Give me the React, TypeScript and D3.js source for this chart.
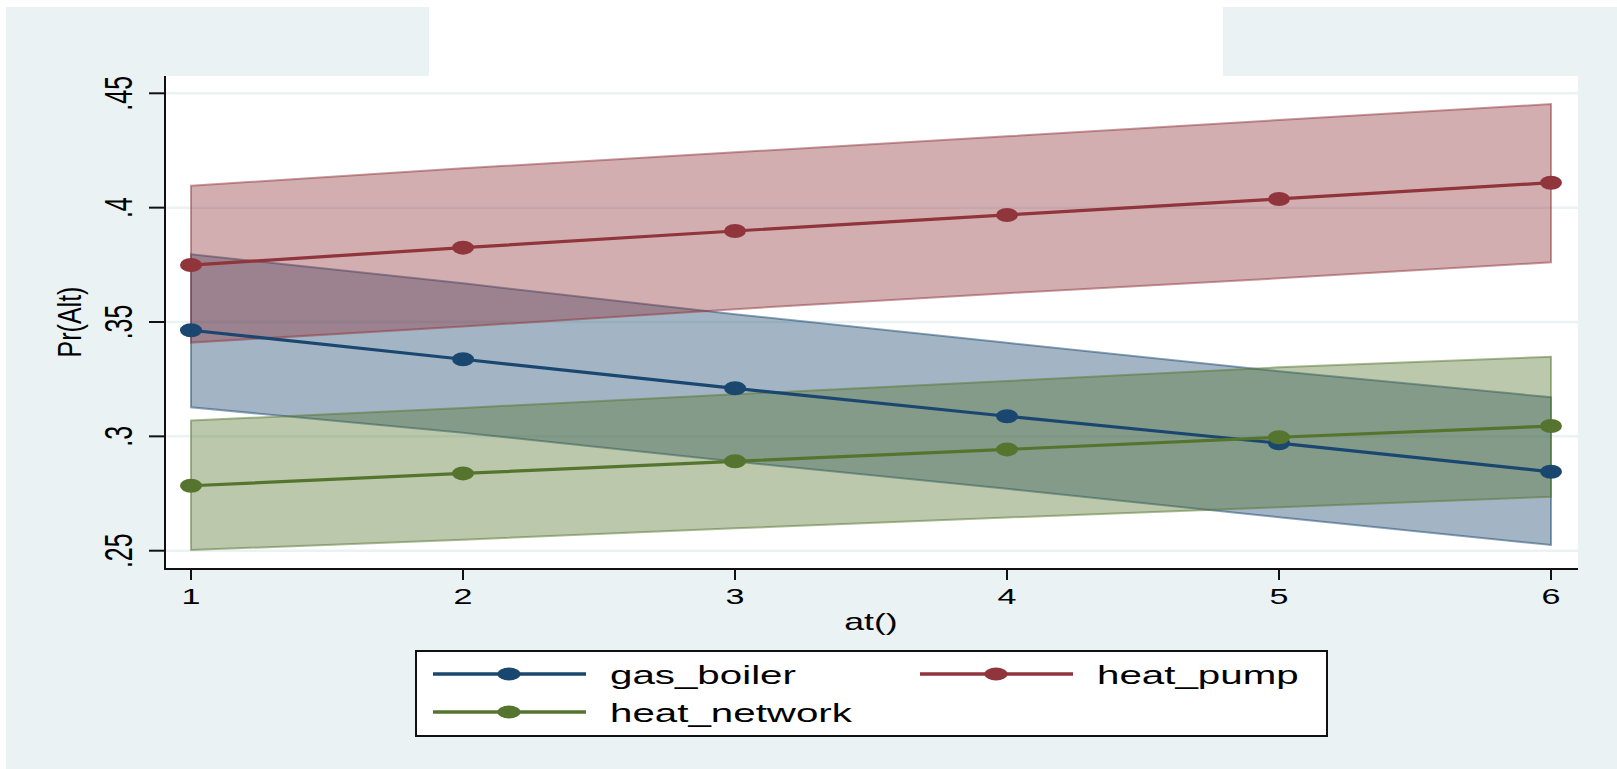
import * as d3 from "d3";

// values
const atValues = [1, 2, 3, 4, 5, 6];
const yTicks = [0.25, 0.3, 0.35, 0.4, 0.45];
const yTickLabels = [".25", ".3", ".35", ".4", ".45"];

const gasBoiler = [0.3464, 0.3337, 0.321, 0.3088, 0.297, 0.2845];
const gasBoilerLo = [0.3127, 0.3016, 0.289, 0.2771, 0.2646, 0.2525];
const gasBoilerHi = [0.3796, 0.3669, 0.3534, 0.3409, 0.3285, 0.3171];

const heatPump = [0.3749, 0.3825, 0.3898, 0.3968, 0.4038, 0.4109];
const heatPumpLo = [0.341, 0.348, 0.3556, 0.3626, 0.3691, 0.3761];
const heatPumpHi = [0.4096, 0.4172, 0.4242, 0.4312, 0.4383, 0.4453];

const heatNetwork = [0.2784, 0.2838, 0.2891, 0.2943, 0.2996, 0.3045];
const heatNetworkLo = [0.2503, 0.2548, 0.2598, 0.2645, 0.269, 0.2736];
const heatNetworkHi = [0.3069, 0.3124, 0.3184, 0.3242, 0.3302, 0.3348];

const seriesNames = ["gas_boiler", "heat_pump", "heat_network"];
const seriesColors = ["#1a476f", "#90353b", "#55752f"];

const W = 1617;
const H = 769;
const BG = "#eaf2f3";
const FONT = "'Liberation Sans', Arial, Helvetica, sans-serif";
const SX = 1.55; // the picture is stretched sideways

export default function App() {
  const x = d3.scaleLinear().domain([1, 6]).range([191, 1551]);
  const y = d3.scaleLinear().domain([0.25, 0.45]).range([550.7, 93.3]);

  const series = [
    { est: gasBoiler, lo: gasBoilerLo, hi: gasBoilerHi },
    { est: heatPump, lo: heatPumpLo, hi: heatPumpHi },
    { est: heatNetwork, lo: heatNetworkLo, hi: heatNetworkHi },
  ];

  // band = [lo, hi] pairs per at() value
  const area = d3
    .area<[number, number]>()
    .x((d, i) => x(atValues[i]))
    .y0((d) => y(d[0]))
    .y1((d) => y(d[1]));

  const line = d3
    .line<number>()
    .x((d, i) => x(atValues[i]))
    .y((d) => y(d));

  const plotL = 165;
  const plotR = 1578;
  const plotT = 76;
  const axisY = 569;

  // legend layout
  const legRows = [
    { name: seriesNames[0], color: seriesColors[0], lx: 433, ly: 674 },
    { name: seriesNames[1], color: seriesColors[1], lx: 920, ly: 674 },
    { name: seriesNames[2], color: seriesColors[2], lx: 433, ly: 712 },
  ];

  return (
    <svg
      width={W}
      height={H}
      style={{ position: "absolute", left: 0, top: 0, display: "block" }}
      fontFamily={FONT}
    >
      <rect x={0} y={0} width={W} height={H} fill="#ffffff" />
      <rect x={6} y={7} width={W - 6} height={H - 7} fill={BG} />
      <rect x={429} y={0} width={794} height={plotT} fill="#ffffff" />
      <rect x={plotL} y={plotT} width={plotR - plotL} height={axisY - plotT} fill="#ffffff" />

      {/* grid */}
      {yTicks.map((t) => (
        <line key={t} x1={plotL} x2={plotR} y1={y(t)} y2={y(t)} stroke={BG} strokeWidth={2.5} />
      ))}

      {/* confidence bands */}
      {series.map((s, i) => (
        <path
          key={"b" + i}
          d={area(s.lo.map((v, j) => [v, s.hi[j]] as [number, number])) || ""}
          fill={seriesColors[i]}
          fillOpacity={0.4}
          stroke={seriesColors[i]}
          strokeOpacity={0.5}
          strokeWidth={2}
        />
      ))}

      {/* lines + markers */}
      {series.map((s, i) => (
        <g key={"l" + i}>
          <path d={line(s.est) || ""} fill="none" stroke={seriesColors[i]} strokeWidth={3.2} />
          {s.est.map((v, j) => (
            <ellipse key={j} cx={x(atValues[j])} cy={y(v)} rx={11} ry={7} fill={seriesColors[i]} />
          ))}
        </g>
      ))}

      {/* axes */}
      <line x1={plotL} x2={plotL} y1={plotT} y2={axisY + 1} stroke="#111" strokeWidth={2} />
      <line x1={plotL - 1} x2={plotR} y1={axisY} y2={axisY} stroke="#111" strokeWidth={2} />
      {yTicks.map((t, i) => (
        <g key={"yt" + t}>
          <line x1={149} x2={plotL} y1={y(t)} y2={y(t)} stroke="#111" strokeWidth={2} />
          <text
            transform={`translate(132,${y(t)}) scale(${SX},1) rotate(-90)`}
            textAnchor="middle"
            fontSize={25}
            fill="#000"
          >
            {yTickLabels[i]}
          </text>
        </g>
      ))}
      {atValues.map((v) => (
        <g key={"xt" + v}>
          <line x1={x(v)} x2={x(v)} y1={axisY} y2={580} stroke="#111" strokeWidth={2} />
          <text
            transform={`translate(${x(v)},604) scale(${SX},1)`}
            textAnchor="middle"
            fontSize={22}
            fill="#000"
          >
            {String(v)}
          </text>
        </g>
      ))}
      <text
        transform={`translate(81,322) scale(1.35,1) rotate(-90)`}
        textAnchor="middle"
        fontSize={25}
        fill="#000"
      >
        Pr(Alt)
      </text>
      <text transform={`translate(871,630) scale(${SX},1)`} textAnchor="middle" fontSize={23} fill="#000">
        at()
      </text>

      {/* legend */}
      <rect x={416} y={651} width={911} height={85} fill="#ffffff" stroke="#111" strokeWidth={2} />
      {legRows.map((r) => (
        <g key={r.name}>
          <line x1={r.lx} x2={r.lx + 153} y1={r.ly} y2={r.ly} stroke={r.color} strokeWidth={3.5} />
          <ellipse cx={r.lx + 76} cy={r.ly} rx={11.5} ry={6.5} fill={r.color} />
          <text
            transform={`translate(${r.lx + 177},${r.ly + 10}) scale(${SX},1)`}
            fontSize={26}
            fill="#000"
          >
            {r.name}
          </text>
        </g>
      ))}
    </svg>
  );
}
